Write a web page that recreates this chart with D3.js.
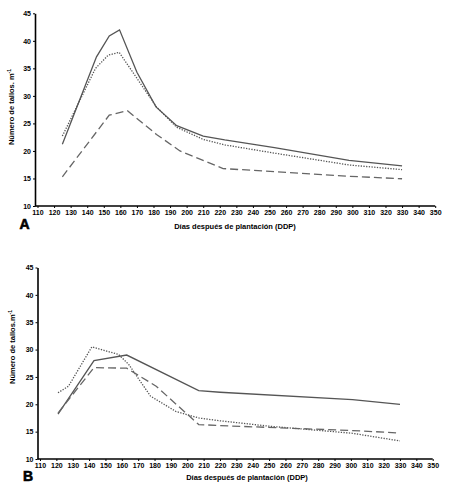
<!DOCTYPE html>
<html>
<head>
<meta charset="utf-8">
<script src="https://cdn.jsdelivr.net/npm/d3@7"></script>
<style>
  body { margin: 0; background: #fff; }
  text { font-family: "Liberation Sans", Arial, sans-serif; font-weight: bold; }
</style>
</head>
<body>
<div id="chart"></div>
<script>
// axis ticks, shared by both panels
const xTicks = d3.range(110, 351, 10);
const yTicks = [10, 15, 20, 25, 30, 35, 40, 45];
const xTitle = "Días después de plantación (DDP)";

// Panel A values
const aSolidDays = [125, 145.6, 153.3, 159.5, 170, 181.5, 194, 210, 223, 253, 298, 330];
const aSolidVals = [21.2, 37.1, 40.9, 42, 34.3, 28, 24.6, 22.7, 22, 20.6, 18.3, 17.3];
const aDotDays = [125, 145, 152.7, 159.3, 181.8, 194, 210, 223, 253, 298, 330];
const aDotVals = [22.7, 35, 37.4, 37.9, 28, 24.3, 22.1, 21.1, 19.6, 17.45, 16.6];
const aDashDays = [125, 153.3, 164.3, 181.8, 196, 222, 298, 330];
const aDashVals = [15.3, 26.5, 27.3, 23, 20, 16.8, 15.4, 14.95];

// Panel B values
const bSolidDays = [121, 143, 163, 207, 220, 301, 330];
const bSolidVals = [18.2, 28, 29, 22.5, 22.2, 20.85, 20.0];
const bDotDays = [121, 127.4, 141.7, 158, 164.2, 177.5, 193, 207, 219.5, 250, 301, 330];
const bDotVals = [22.1, 23.3, 30.5, 29.1, 27.3, 21.5, 18.7, 17.5, 17.0, 16.0, 14.7, 13.3];
const bDashDays = [121, 143, 163, 181, 207, 220, 301, 330];
const bDashVals = [18.4, 26.7, 26.6, 23.3, 16.3, 16.1, 15.2, 14.75];

const lineStyles = {
  solid: { stroke: "#555", dash: null },
  dot:   { stroke: "#555", dash: "1.3,1.4" },
  dash:  { stroke: "#666", dash: "8,4" }
};

const svg = d3.select("#chart").append("svg")
  .attr("width", 450)
  .attr("height", 490);

svg.append("rect").attr("width", 450).attr("height", 490).attr("fill", "#fff");

function zip(days, vals) {
  return days.map(function(d, i) { return { day: d, val: vals[i] }; });
}

function drawPanel(p) {
  var x = d3.scaleLinear().domain([110, 350]).range(p.xRange);
  var y = d3.scaleLinear().domain([10, 45]).range(p.yRange);
  var g = svg.append("g");
  var axisX = x(110) - 2.5;

  // y axis
  var yAx = g.append("g")
    .attr("transform", "translate(" + axisX + ",0)")
    .call(d3.axisLeft(y).tickValues(yTicks).tickSize(2).tickSizeOuter(0).tickPadding(2));
  yAx.select(".domain").attr("stroke-width", 1.6);
  yAx.selectAll("text").attr("font-size", 7).attr("font-family", null);

  // x axis
  var xAx = g.append("g")
    .attr("transform", "translate(0," + y(10) + ")")
    .call(d3.axisBottom(x).tickValues(xTicks).tickSize(2).tickSizeOuter(0).tickPadding(2));
  xAx.select(".domain").remove();
  xAx.selectAll("text").attr("font-size", 7).attr("font-family", null);
  g.append("line")
    .attr("x1", axisX).attr("x2", x(350))
    .attr("y1", y(10)).attr("y2", y(10))
    .attr("stroke", "#000").attr("stroke-width", 1.6);

  var line = d3.line()
    .x(function(d) { return x(d.day); })
    .y(function(d) { return y(d.val); });

  p.series.forEach(function(s) {
    var st = lineStyles[s.style];
    g.append("path")
      .datum(zip(s.days, s.vals))
      .attr("d", line)
      .attr("fill", "none")
      .attr("stroke", st.stroke)
      .attr("stroke-width", 1.3)
      .attr("stroke-dasharray", st.dash);
  });

  // titles
  g.append("text")
    .attr("x", p.xTitlePos[0]).attr("y", p.xTitlePos[1])
    .attr("text-anchor", "middle").attr("font-size", 7.5)
    .text(xTitle);
  var yt = g.append("text")
    .attr("transform", "translate(" + p.yTitlePos[0] + "," + p.yTitlePos[1] + ") rotate(-90)")
    .attr("text-anchor", "middle").attr("font-size", 7.5);
  yt.append("tspan").text(p.yTitle);
  yt.append("tspan").attr("font-size", 5).attr("dy", -3).text("-1");
  g.append("text")
    .attr("x", p.letterPos[0]).attr("y", p.letterPos[1])
    .attr("font-size", 14).attr("font-weight", 900)
    .attr("stroke", "#000").attr("stroke-width", 0.6)
    .text(p.letter);
}

drawPanel({
  xRange: [37.5, 435.2], yRange: [206, 13.3],
  xTitlePos: [235, 229], yTitlePos: [14, 107],
  yTitle: "Número de tallos. m", letter: "A", letterPos: [19.5, 228.5],
  series: [
    { days: aSolidDays, vals: aSolidVals, style: "solid" },
    { days: aDotDays, vals: aDotVals, style: "dot" },
    { days: aDashDays, vals: aDashVals, style: "dash" }
  ]
});

drawPanel({
  xRange: [40, 432.7], yRange: [459, 267.5],
  xTitlePos: [247, 480], yTitlePos: [15, 347],
  yTitle: "Número de tallos.m", letter: "B", letterPos: [23, 481],
  series: [
    { days: bSolidDays, vals: bSolidVals, style: "solid" },
    { days: bDotDays, vals: bDotVals, style: "dot" },
    { days: bDashDays, vals: bDashVals, style: "dash" }
  ]
});
</script>
</body>
</html>
